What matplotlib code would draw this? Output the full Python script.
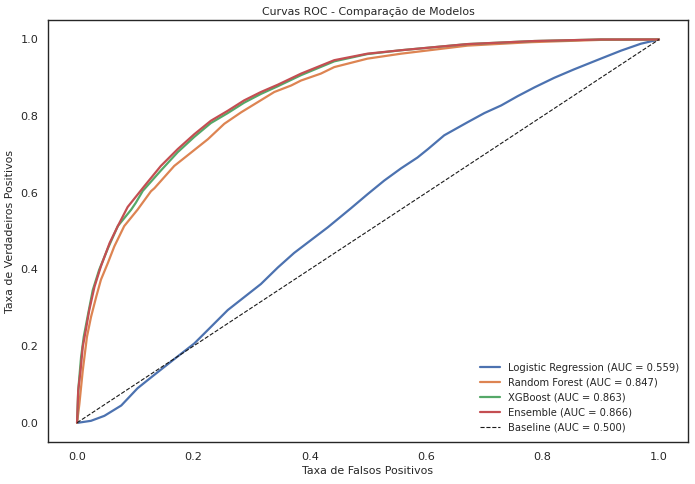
import matplotlib
matplotlib.use("Agg")
import matplotlib.pyplot as plt
import seaborn as sns

sns.set_theme(style="white")
plt.rcParams['font.family'] = ['DejaVu Sans']

title = "Curvas ROC - Comparação de Modelos"
xlabel = "Taxa de Falsos Positivos"
ylabel = "Taxa de Verdadeiros Positivos"

lr_fpr = [0.0, 0.002, 0.024, 0.047, 0.076, 0.104, 0.127, 0.162, 0.2016, 0.23, 0.259, 0.316,
          0.345, 0.373, 0.405, 0.431, 0.471, 0.499, 0.528, 0.557, 0.585, 0.603, 0.631, 0.671,
          0.7, 0.729, 0.757, 0.786, 0.82, 0.854, 0.9, 0.935, 0.969, 1.0]
lr_tpr = [0.0, 0.0, 0.005, 0.018, 0.045, 0.09, 0.118, 0.16, 0.207, 0.25, 0.294, 0.362,
          0.405, 0.443, 0.48, 0.51, 0.56, 0.596, 0.632, 0.664, 0.692, 0.714, 0.75, 0.784,
          0.808, 0.828, 0.852, 0.875, 0.9, 0.922, 0.95, 0.971, 0.989, 1.0]

rf_fpr = [0.0, 0.004, 0.0098, 0.017, 0.024, 0.033, 0.041, 0.053, 0.064, 0.081, 0.104, 0.127,
          0.133, 0.167, 0.196, 0.225, 0.253, 0.282, 0.31, 0.339, 0.368, 0.385, 0.419, 0.442,
          0.499, 0.557, 0.671, 0.78, 0.9, 1.0]
rf_tpr = [0.0, 0.049, 0.136, 0.224, 0.276, 0.329, 0.373, 0.417, 0.46, 0.513, 0.556, 0.604,
          0.612, 0.67, 0.705, 0.74, 0.78, 0.81, 0.836, 0.863, 0.88, 0.893, 0.911, 0.928,
          0.95, 0.963, 0.984, 0.993, 0.999, 1.0]

xgb_fpr = [0.0, 0.002, 0.0069, 0.0115, 0.018, 0.027, 0.038, 0.053, 0.07, 0.093, 0.101, 0.113,
           0.144, 0.173, 0.2016, 0.23, 0.259, 0.287, 0.316, 0.345, 0.385, 0.442, 0.499,
           0.557, 0.671, 0.786, 0.9, 1.0]
xgb_tpr = [0.0, 0.084, 0.171, 0.224, 0.276, 0.346, 0.399, 0.455, 0.513, 0.556, 0.574, 0.605,
           0.658, 0.706, 0.746, 0.782, 0.808, 0.835, 0.858, 0.878, 0.907, 0.943, 0.962,
           0.972, 0.988, 0.996, 1.0, 1.0]

ens_fpr = [0.0, 0.002, 0.006, 0.0098, 0.015, 0.021, 0.03, 0.041, 0.056, 0.07, 0.087, 0.116,
           0.144, 0.173, 0.2016, 0.23, 0.259, 0.287, 0.316, 0.345, 0.385, 0.442, 0.499,
           0.557, 0.671, 0.786, 0.9, 1.0]
ens_tpr = [0.0, 0.084, 0.136, 0.198, 0.241, 0.294, 0.355, 0.408, 0.469, 0.513, 0.563, 0.618,
           0.67, 0.714, 0.753, 0.788, 0.814, 0.841, 0.863, 0.882, 0.911, 0.946, 0.963,
           0.972, 0.988, 0.996, 1.0, 1.0]

base_fpr = [0.0, 1.0]
base_tpr = [0.0, 1.0]

labels = ["Logistic Regression (AUC = 0.559)", "Random Forest (AUC = 0.847)",
          "XGBoost (AUC = 0.863)", "Ensemble (AUC = 0.866)", "Baseline (AUC = 0.500)"]

pal = sns.color_palette("deep")

fig, ax = plt.subplots(figsize=(6.95, 4.84), dpi=100)
ax.plot(lr_fpr, lr_tpr, color=pal[0], lw=1.6, label=labels[0])
ax.plot(rf_fpr, rf_tpr, color=pal[1], lw=1.6, label=labels[1])
ax.plot(xgb_fpr, xgb_tpr, color=pal[2], lw=1.6, label=labels[2])
ax.plot(ens_fpr, ens_tpr, color=pal[3], lw=1.6, label=labels[3])
ax.plot(base_fpr, base_tpr, 'k--', lw=0.8, label=labels[4])

ax.set_title(title, fontsize=7.9, pad=4)
ax.set_xlabel(xlabel, fontsize=7.9, labelpad=3)
ax.set_ylabel(ylabel, fontsize=7.9, labelpad=4)
ax.tick_params(labelsize=8.1, length=0, pad=7)
ax.legend(loc="lower right", fontsize=7.2, frameon=False)
for s in ax.spines.values():
    s.set_color("#262626")
    s.set_linewidth(1.0)

fig.subplots_adjust(left=0.069, right=0.99, bottom=0.087, top=0.958)
fig.savefig("out.png", dpi=100)
